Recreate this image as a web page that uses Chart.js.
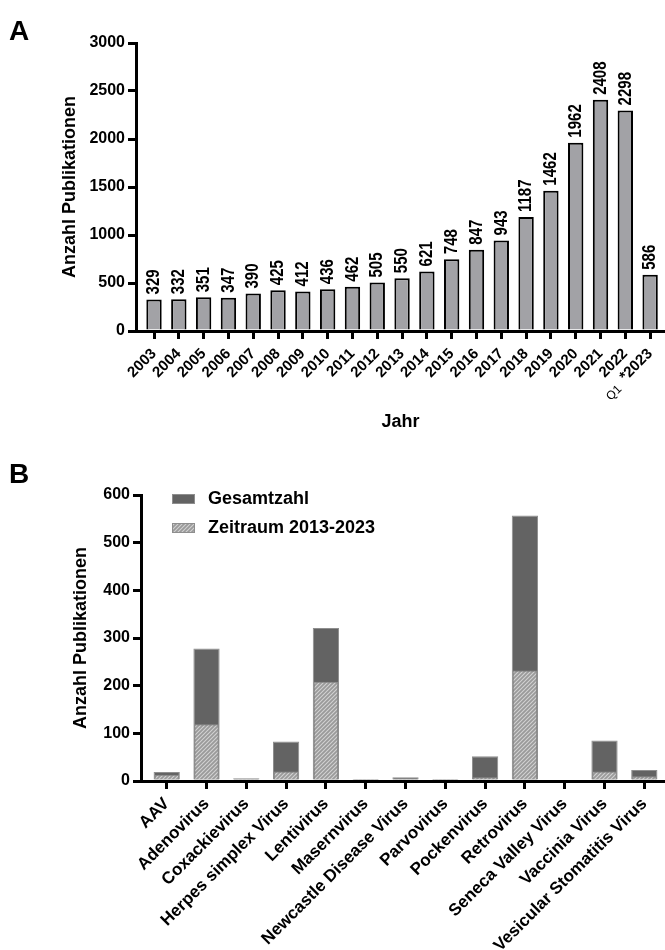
<!DOCTYPE html>
<html lang="de">
<head>
    <meta charset="UTF-8">
    <title>Publikationen</title>
    <script src="https://cdn.jsdelivr.net/npm/chart.js"></script>
    <style>
        body {
            margin: 0;
            background: #fff;
            overflow: hidden;
        }
        .panel {
            position: relative;
            width: 665px;
        }
    </style>
</head>
<body>

    <div class="panel" style="height: 450px;"><canvas id="chartA"></canvas></div>
    <div class="panel" style="height: 500px;"><canvas id="chartB"></canvas></div>

    <script>
        // Panel A: Publikationen pro Jahr
        const yearLabels = ['2003', '2004', '2005', '2006', '2007', '2008', '2009', '2010', '2011', '2012',
            '2013', '2014', '2015', '2016', '2017', '2018', '2019', '2020', '2021', '2022', '*2023']
        const pubCounts = [329, 332, 351, 347, 390, 425, 412, 436, 462, 505,
            550, 621, 748, 847, 943, 1187, 1462, 1962, 2408, 2298, 586]
        const yTicksA = [0, 500, 1000, 1500, 2000, 2500, 3000]

        // Panel B: Publikationen pro Virus
        const virusLabels = ['AAV', 'Adenovirus', 'Coxackievirus', 'Herpes simplex Virus', 'Lentivirus',
            'Masernvirus', 'Newcastle Disease Virus', 'Parvovirus', 'Pockenvirus', 'Retrovirus',
            'Seneca Valley Virus', 'Vaccinia Virus', 'Vesicular Stomatitis Virus']
        const totalCounts = [19, 278, 6, 83, 321, 2, 8, 2, 52, 557, 0, 85, 23]
        const recentCounts = [13, 119, 2, 20, 208, 2, 4, 2, 8, 232, 0, 20, 10]
        const yTicksB = [0, 100, 200, 300, 400, 500, 600]

        Chart.defaults.font.family = '"Liberation Sans", Arial, Helvetica, sans-serif'
        Chart.defaults.color = '#000'

        const panelLabel = (letter, baseline) => ({
            id: 'panel' + letter,
            afterDraw(chart) {
                const ctx = chart.ctx
                ctx.save()
                ctx.font = 'bold 28px "Liberation Sans", Arial, sans-serif'
                ctx.fillStyle = '#000'
                ctx.textBaseline = 'alphabetic'
                ctx.fillText(letter, 9, baseline)
                ctx.restore()
            }
        })

        // Zahlen senkrecht ueber den Balken
        const valueLabels = {
            id: 'valueLabels',
            afterDatasetsDraw(chart) {
                const ctx = chart.ctx
                const meta = chart.getDatasetMeta(0)
                ctx.save()
                ctx.font = 'bold 19px "Liberation Sans", Arial, sans-serif'
                ctx.fillStyle = '#000'
                ctx.textAlign = 'left'
                ctx.textBaseline = 'middle'
                meta.data.forEach((bar, i) => {
                    ctx.save()
                    ctx.translate(bar.x, bar.y - 5)
                    ctx.rotate(-Math.PI / 2)
                    ctx.scale(0.79, 1)
                    ctx.fillText(String(pubCounts[i]), 0, 0)
                    ctx.restore()
                })
                ctx.restore()
            }
        }

        // kleines "Q1" unter *2023
        const q1Note = {
            id: 'q1Note',
            afterDraw(chart) {
                const xs = chart.scales.x
                const ctx = chart.ctx
                ctx.save()
                ctx.translate(xs.getPixelForValue(yearLabels.length - 1) - 36, xs.top + 62)
                ctx.rotate(-Math.PI / 4)
                ctx.font = '12px "Liberation Sans", Arial, sans-serif'
                ctx.fillStyle = '#000'
                ctx.textAlign = 'center'
                ctx.textBaseline = 'middle'
                ctx.fillText('Q1', 0, 0)
                ctx.restore()
            }
        }

        const legendInside = {
            id: 'legendInside',
            afterDraw(chart) {
                const ctx = chart.ctx
                const area = chart.chartArea
                ctx.save()
                ctx.font = 'bold 18px "Liberation Sans", Arial, sans-serif'
                ctx.textBaseline = 'middle'
                chart.data.datasets.forEach((ds, i) => {
                    const y = area.top + 4 + i * 29
                    ctx.fillStyle = ds.backgroundColor
                    ctx.fillRect(area.left + 31, y - 5, 23, 10)
                    ctx.strokeStyle = ds.borderColor
                    ctx.lineWidth = 1
                    ctx.strokeRect(area.left + 31.5, y - 4.5, 22, 9)
                    ctx.fillStyle = '#000'
                    ctx.fillText(ds.label, area.left + 67, y)
                })
                ctx.restore()
            }
        }

        function makeHatch(ctx) {
            const c = document.createElement('canvas')
            c.width = 4
            c.height = 4
            const p = c.getContext('2d')
            p.fillStyle = '#9a9a9a'
            p.fillRect(0, 0, 4, 4)
            p.strokeStyle = '#d2d2d2'
            p.lineWidth = 1.1
            p.beginPath()
            p.moveTo(0, 4); p.lineTo(4, 0)
            p.moveTo(-1, 1); p.lineTo(1, -1)
            p.moveTo(3, 5); p.lineTo(5, 3)
            p.stroke()
            return ctx.createPattern(c, 'repeat')
        }

        const axisStyle = {
            grid: { drawOnChartArea: false, color: '#000', lineWidth: 3, tickLength: 8, offset: false },
            border: { color: '#000', width: 3 }
        }

        // ---------- A ----------
        new Chart(document.getElementById('chartA'), {
            type: 'bar',
            data: {
                datasets: [{
                    label: 'Anzahl Publikationen',
                    data: pubCounts.map((v, i) => ({ x: i, y: v })),
                    backgroundColor: '#a2a2a6',
                    borderColor: '#000',
                    borderWidth: 2,
                    barPercentage: 0.62,
                    categoryPercentage: 1
                }]
            },
            options: {
                responsive: true,
                maintainAspectRatio: false,
                animation: false,
                events: [],
                layout: { padding: { top: 43, right: 0, bottom: 0, left: 0 } },
                plugins: { legend: { display: false }, tooltip: { enabled: false } },
                scales: {
                    x: {
                        type: 'linear',
                        min: -0.726,
                        max: 20.6,
                        offset: false,
                        ...axisStyle,
                        afterBuildTicks: s => { s.ticks = yearLabels.map((_, i) => ({ value: i })) },
                        afterFit: s => { s.height = 119; s.paddingLeft = 0; s.paddingRight = 0 },
                        ticks: {
                            autoSkip: false, minRotation: 45, maxRotation: 45, padding: 6,
                            font: { size: 15, weight: 'bold' },
                            callback: v => yearLabels[v]
                        },
                        title: { display: true, text: 'Jahr', font: { size: 18, weight: 'bold' }, padding: { top: 0, bottom: 17 } }
                    },
                    y: {
                        min: yTicksA[0],
                        max: yTicksA[yTicksA.length - 1],
                        ...axisStyle,
                        afterBuildTicks: s => { s.ticks = yTicksA.map(v => ({ value: v })) },
                        afterFit: s => { s.width = 136; s.paddingBottom = 0 },
                        ticks: { padding: 3, font: { size: 16, weight: 'bold' }, callback: v => String(v) },
                        title: { display: true, text: 'Anzahl Publikationen', font: { size: 18, weight: 'bold' }, padding: { top: 59, bottom: 0 } }
                    }
                }
            },
            plugins: [panelLabel('A', 40), valueLabels, q1Note]
        })

        // ---------- B ----------
        const canvasB = document.getElementById('chartB')
        const hatch = makeHatch(canvasB.getContext('2d'))

        new Chart(canvasB, {
            type: 'bar',
            data: {
                datasets: [{
                    label: 'Gesamtzahl',
                    data: totalCounts.map((v, i) => ({ x: i, y: v })),
                    backgroundColor: '#636363',
                    borderColor: '#8e8e8e',
                    borderWidth: 1,
                    barPercentage: 0.66,
                    categoryPercentage: 1,
                    grouped: false,
                    order: 2
                }, {
                    label: 'Zeitraum 2013-2023',
                    data: recentCounts.map((v, i) => ({ x: i, y: v })),
                    backgroundColor: hatch,
                    borderColor: '#8e8e8e',
                    borderWidth: 1,
                    barPercentage: 0.62,
                    categoryPercentage: 1,
                    grouped: false,
                    order: 1
                }]
            },
            options: {
                responsive: true,
                maintainAspectRatio: false,
                animation: false,
                events: [],
                layout: { padding: { top: 45, right: 0, bottom: 0, left: 0 } },
                plugins: { legend: { display: false }, tooltip: { enabled: false } },
                scales: {
                    x: {
                        type: 'linear',
                        min: -0.646,
                        max: 12.52,
                        offset: false,
                        ...axisStyle,
                        afterBuildTicks: s => { s.ticks = virusLabels.map((_, i) => ({ value: i })) },
                        afterFit: s => { s.height = 169; s.paddingLeft = 0; s.paddingRight = 0 },
                        ticks: {
                            autoSkip: false, minRotation: 45, maxRotation: 45, padding: 5,
                            font: { size: 17, weight: 'bold' },
                            callback: v => virusLabels[v]
                        }
                    },
                    y: {
                        min: yTicksB[0],
                        max: yTicksB[yTicksB.length - 1],
                        ...axisStyle,
                        afterBuildTicks: s => { s.ticks = yTicksB.map(v => ({ value: v })) },
                        afterFit: s => { s.width = 141; s.paddingBottom = 0 },
                        ticks: { padding: 3, font: { size: 16, weight: 'bold' }, callback: v => String(v) },
                        title: { display: true, text: 'Anzahl Publikationen', font: { size: 18, weight: 'bold' }, padding: { top: 70, bottom: 0 } }
                    }
                }
            },
            plugins: [panelLabel('B', 33), legendInside]
        })
    </script>
</body>
</html>
